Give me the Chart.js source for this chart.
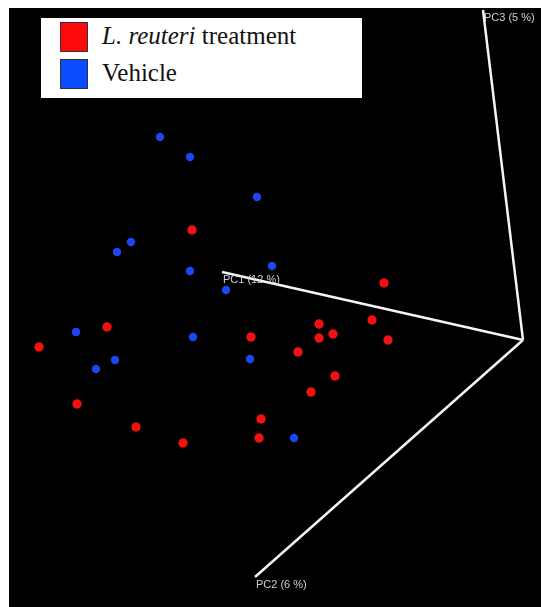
<!DOCTYPE html>
<html>
<head>
<meta charset="utf-8">
<script src="https://cdn.jsdelivr.net/npm/chart.js@4.4.1/dist/chart.umd.min.js"></script>
<style>
  html, body { margin: 0; padding: 0; background: #fff; }
  #wrap { position: relative; width: 541px; height: 607px; }
  #bg { position: absolute; left: 9px; top: 8px; right: 0; bottom: 0; background: #000; }
  #plot { position: absolute; left: 0; top: 0; }
  #legend {
    position: absolute; left: 41px; top: 18px; width: 321px; height: 80px;
    background: #fff; font-family: "Liberation Serif", "Times New Roman", serif;
    font-size: 25px; color: #111;
  }
  .item { position: absolute; left: 19px; height: 30px; line-height: 30px; }
  .sw { position: absolute; left: 0; top: 0; width: 26px; height: 28px; border: 1px solid #333; }
  .lbl { position: absolute; left: 42px; top: -1px; white-space: nowrap; }
</style>
</head>
<body>
<div id="wrap">
  <div id="bg"></div>
  <canvas id="plot" width="541" height="607"></canvas>
  <div id="legend">
    <div class="item" style="top:4px"><div class="sw" style="background:#ff0a0a"></div><div class="lbl"><i>L. reuteri</i> treatment</div></div>
    <div class="item" style="top:41px"><div class="sw" style="background:#0a4cff"></div><div class="lbl">Vehicle</div></div>
  </div>
</div>
<script>
// projected PCoA coordinates (screen units of the 3D view)
const reuteriX = [192, 39, 107, 251, 298, 319, 319, 333, 372, 388, 384, 335, 311, 77, 261, 136, 259, 183];
const reuteriY = [230, 347, 327, 337, 352, 324, 338, 334, 320, 340, 283, 376, 392, 404, 419, 427, 438, 443];
const vehicleX = [160, 190, 257, 131, 117, 190, 272, 226, 76, 193, 115, 96, 250, 294];
const vehicleY = [137, 157, 197, 242, 252, 271, 266, 290, 332, 337, 360, 369, 359, 438];

// axes of the 3D view: common origin and the end of each PC axis
const axisNames = ['PC1 (12 %)', 'PC2 (6 %)', 'PC3 (5 %)'];
const axisOrigin = [523, 340];
const axisEndX = [222, 255, 483];
const axisEndY = [272, 577, 10];

const toPoints = (xs, ys) => xs.map((x, i) => ({ x: x, y: ys[i] }));

const axisSets = axisNames.map((name, i) => ({
    label: name,
    type: 'line',
    data: [{ x: axisOrigin[0], y: axisOrigin[1] }, { x: axisEndX[i], y: axisEndY[i] }],
    borderColor: '#f4f4f4',
    borderWidth: 2.5,
    pointRadius: 0,
    fill: false
}));

const axisLabels = {
    id: 'axisLabels',
    afterDatasetsDraw(chart) {
        const ctx = chart.ctx;
        const xs = chart.scales.x, ys = chart.scales.y;
        ctx.save();
        ctx.font = '11px "Liberation Sans", Arial, sans-serif';
        ctx.fillStyle = '#d0d0d0';
        ctx.textBaseline = 'top';
        axisNames.forEach((name, i) => {
            ctx.fillText(name, xs.getPixelForValue(axisEndX[i]) + 1, ys.getPixelForValue(axisEndY[i]) + 2);
        });
        ctx.restore();
    }
};

new Chart(document.getElementById('plot'), {
    type: 'scatter',
    data: {
        datasets: [
            ...axisSets,
            {
                label: 'L. reuteri treatment',
                data: toPoints(reuteriX, reuteriY),
                backgroundColor: '#f21010',
                borderWidth: 0,
                pointRadius: 4.7
            },
            {
                label: 'Vehicle',
                data: toPoints(vehicleX, vehicleY),
                backgroundColor: '#1e46f0',
                borderWidth: 0,
                pointRadius: 4.2
            }
        ]
    },
    options: {
        responsive: false,
        animation: false,
        layout: { padding: 0, autoPadding: false },
        plugins: { legend: { display: false }, tooltip: { enabled: false } },
        scales: {
            x: { display: false, min: 0, max: 541 },
            y: { display: false, min: 0, max: 607, reverse: true }
        }
    },
    plugins: [axisLabels]
});
</script>
</body>
</html>
